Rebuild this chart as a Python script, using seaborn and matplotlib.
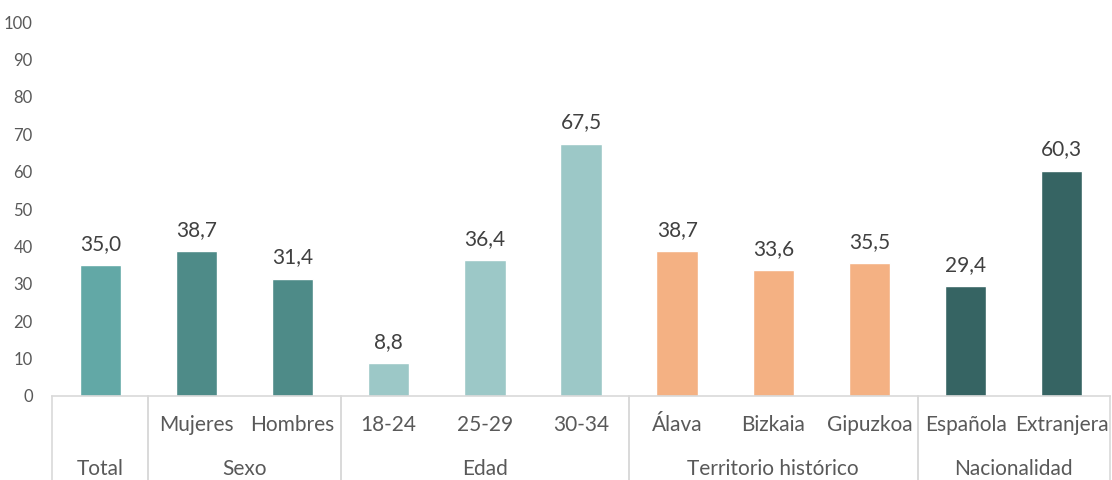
import pandas as pd
import seaborn as sns
import matplotlib.pyplot as plt
import matplotlib.transforms as mtransforms

categories = ['Total', 'Mujeres', 'Hombres', '18-24', '25-29', '30-34',
              'Álava', 'Bizkaia', 'Gipuzkoa', 'Española', 'Extranjera']
values = [35.0, 38.7, 31.4, 8.8, 36.4, 67.5, 38.7, 33.6, 35.5, 29.4, 60.3]
groups = ['Total', 'Sexo', 'Sexo', 'Edad', 'Edad', 'Edad',
          'Territorio histórico', 'Territorio histórico', 'Territorio histórico',
          'Nacionalidad', 'Nacionalidad']
group_colors = {'Total': '#62A8A6', 'Sexo': '#4E8B88', 'Edad': '#9CC8C7',
                'Territorio histórico': '#F4B183', 'Nacionalidad': '#366463'}
yticks = list(range(0, 101, 10))

df = pd.DataFrame({'cat': categories, 'val': values, 'grp': groups})

sns.set_style("white")
plt.rcParams['font.family'] = ['Lato', 'DejaVu Sans']

fig = plt.figure(figsize=(11.12, 4.8), dpi=100)
ax = fig.add_axes([0.047, 0.175, 0.951, 0.779])

sns.barplot(data=df, x='cat', y='val', hue='grp', palette=group_colors,
            dodge=False, width=0.43, legend=False, ax=ax, order=categories,
            saturation=1)

ax.set_ylim(0, 100)
ax.set_xlim(-0.5, len(categories) - 0.5)
ax.set_yticks(yticks)
ax.set_yticklabels([str(t) for t in yticks], color='#595959', fontsize=12)
ax.tick_params(axis='y', length=0, pad=14)
ax.set_xticks([])
ax.set_xlabel('')
ax.set_ylabel('')
for s in ['top', 'right', 'left']:
    ax.spines[s].set_visible(False)
ax.spines['bottom'].set_color('#D9D9D9')
ax.spines['bottom'].set_linewidth(1.2)

for i, v in enumerate(values):
    ax.annotate(f"{v:.1f}".replace('.', ','), (i, v), xytext=(0, 8),
                textcoords='offset points', ha='center', va='bottom',
                fontsize=15, color='#404040')

trans = mtransforms.blended_transform_factory(ax.transData, ax.transAxes)
for i, c in enumerate(categories):
    if groups[i] != 'Total':
        ax.text(i, -0.077, c, transform=trans, ha='center', va='center',
                fontsize=15, color='#595959')

# group labels and separators
bounds = []
start = 0
for i in range(1, len(groups) + 1):
    if i == len(groups) or groups[i] != groups[start]:
        bounds.append((start, i - 1, groups[start]))
        start = i
for a, b, g in bounds:
    ax.text((a + b) / 2, -0.195, g, transform=trans, ha='center', va='center',
            fontsize=15, color='#595959')
    for x in (a - 0.5, b + 0.5):
        ax.plot([x, x], [0, -0.23], transform=trans, color='#D9D9D9',
                lw=1.2, clip_on=False)

fig.savefig('out.png', dpi=100)
